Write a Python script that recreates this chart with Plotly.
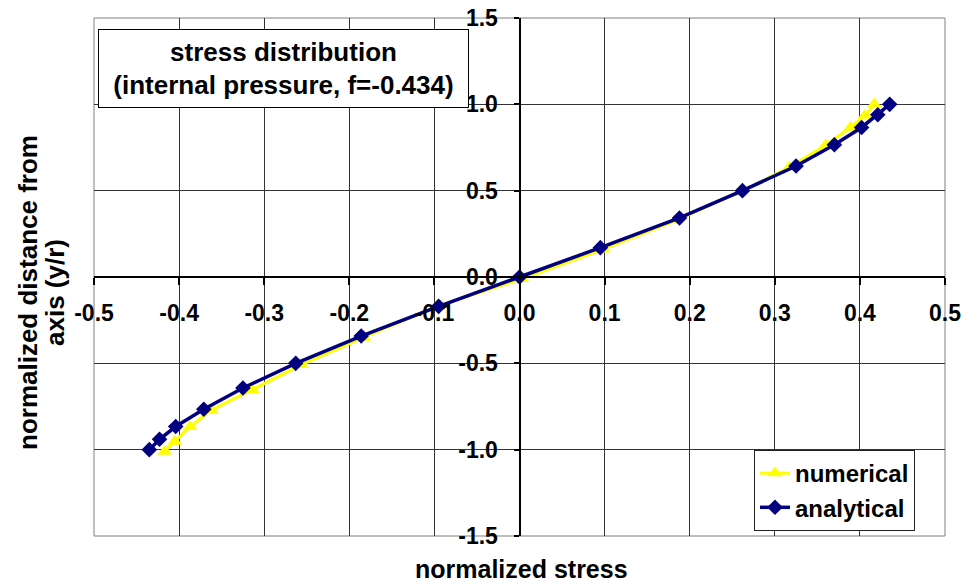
import plotly.graph_objects as go

# Data
x_numerical = [-0.417, -0.405, -0.387, -0.362, -0.314, -0.256, -0.183, -0.097, 0.003,
               0.098, 0.185, 0.258, 0.317, 0.360, 0.389, 0.406, 0.417]
y_numerical = [-1.01, -0.953, -0.867, -0.771, -0.653, -0.508, -0.35, -0.17, -0.01,
               0.16, 0.33, 0.49, 0.635, 0.765, 0.866, 0.936, 1.0]

x_analytical = [-0.435, -0.423, -0.404, -0.371, -0.325, -0.263, -0.186, -0.095, 0.0,
                0.095, 0.188, 0.262, 0.325, 0.370, 0.402, 0.421, 0.435]
y_analytical = [-1.0, -0.94, -0.866, -0.766, -0.643, -0.5, -0.342, -0.17, 0.0,
                0.17, 0.342, 0.5, 0.643, 0.766, 0.866, 0.94, 1.0]

x_ticks = [-0.5, -0.4, -0.3, -0.2, -0.1, 0.0, 0.1, 0.2, 0.3, 0.4, 0.5]
y_ticks = [-1.5, -1.0, -0.5, 0.0, 0.5, 1.0, 1.5]

FONT = "Liberation Sans, Arial, sans-serif"
W, H = 970, 586
ML, MR, MT, MB = 94, 25, 18, 50
PW, PH = W - ML - MR, H - MT - MB


def px_x(p):
    return (p - ML) / PW


def px_y(p):
    return (H - MB - p) / PH


fig = go.Figure()
fig.add_trace(go.Scatter(
    x=x_numerical, y=y_numerical, name="numerical", mode="lines+markers",
    line=dict(color="#FFFF00", width=3),
    marker=dict(symbol="triangle-up", size=13, color="#FFFF00"),
))
fig.add_trace(go.Scatter(
    x=x_analytical, y=y_analytical, name="analytical", mode="lines+markers",
    line=dict(color="#000080", width=3.5),
    marker=dict(symbol="diamond", size=12, color="#000080"),
))

tickfont = dict(family=FONT, size=23, color="black", weight="bold")

fig.update_layout(
    width=W, height=H,
    margin=dict(l=ML, r=MR, t=MT, b=MB, autoexpand=False),
    paper_bgcolor="white", plot_bgcolor="white",
    font=dict(family=FONT, color="black"),
    xaxis=dict(
        range=[-0.5, 0.5], tickvals=x_ticks, ticktext=[f"{v:.1f}" for v in x_ticks],
        anchor="free", position=0.5, automargin=False,
        showline=True, linecolor="black", linewidth=2,
        ticks="outside", ticklen=7, tickwidth=2, tickcolor="black",
        showgrid=True, gridcolor="#333333", gridwidth=1, zeroline=False,
        tickfont=tickfont, ticklabelstandoff=8,
    ),
    yaxis=dict(
        range=[-1.5, 1.5], tickvals=y_ticks, ticktext=[f"{v:.1f}" for v in y_ticks],
        anchor="free", position=0.5, automargin=False,
        showline=True, linecolor="black", linewidth=2,
        ticks="outside", ticklen=5, tickwidth=2, tickcolor="black",
        showgrid=True, gridcolor="#333333", gridwidth=1, zeroline=False,
        tickfont=tickfont, ticklabelstandoff=11,
    ),
    legend=dict(
        x=px_x(754), y=px_y(450), xanchor="left", yanchor="top",
        bgcolor="white", bordercolor="#222222", borderwidth=1,
        font=dict(family=FONT, size=24, color="black", weight="bold"),
    ),
    showlegend=True,
)

# plot frame
fig.add_shape(type="rect", xref="paper", yref="paper", x0=0, x1=1, y0=0, y1=1,
              line=dict(color="#808080", width=1), layer="below")

# chart title box
fig.add_annotation(
    xref="paper", yref="paper", x=px_x(283.5), y=px_y(68.5),
    xanchor="center", yanchor="middle",
    text="<b>stress distribution</b><br><b>(internal pressure, f=-0.434)</b>",
    showarrow=False, align="center",
    font=dict(family=FONT, size=26, color="black"),
    bgcolor="white", bordercolor="black", borderwidth=1, borderpad=0,
    width=369, height=77,
)

# axis titles
fig.add_annotation(
    xref="paper", yref="paper", x=px_x(521), y=px_y(569),
    xanchor="center", yanchor="middle", showarrow=False,
    text="<b>normalized stress</b>",
    font=dict(family=FONT, size=25, color="black"),
)
fig.add_annotation(
    xref="paper", yref="paper", x=px_x(28), y=px_y(293),
    xanchor="center", yanchor="middle", showarrow=False, textangle=-90,
    text="<b>normalized distance from</b>",
    font=dict(family=FONT, size=26, color="black"),
)
fig.add_annotation(
    xref="paper", yref="paper", x=px_x(55), y=px_y(293),
    xanchor="center", yanchor="middle", showarrow=False, textangle=-90,
    text="<b>axis (y/r)</b>",
    font=dict(family=FONT, size=26, color="black"),
)

fig.write_html("out.html", config={"displayModeBar": False},
               post_script="document.body.style.margin='0px';")
